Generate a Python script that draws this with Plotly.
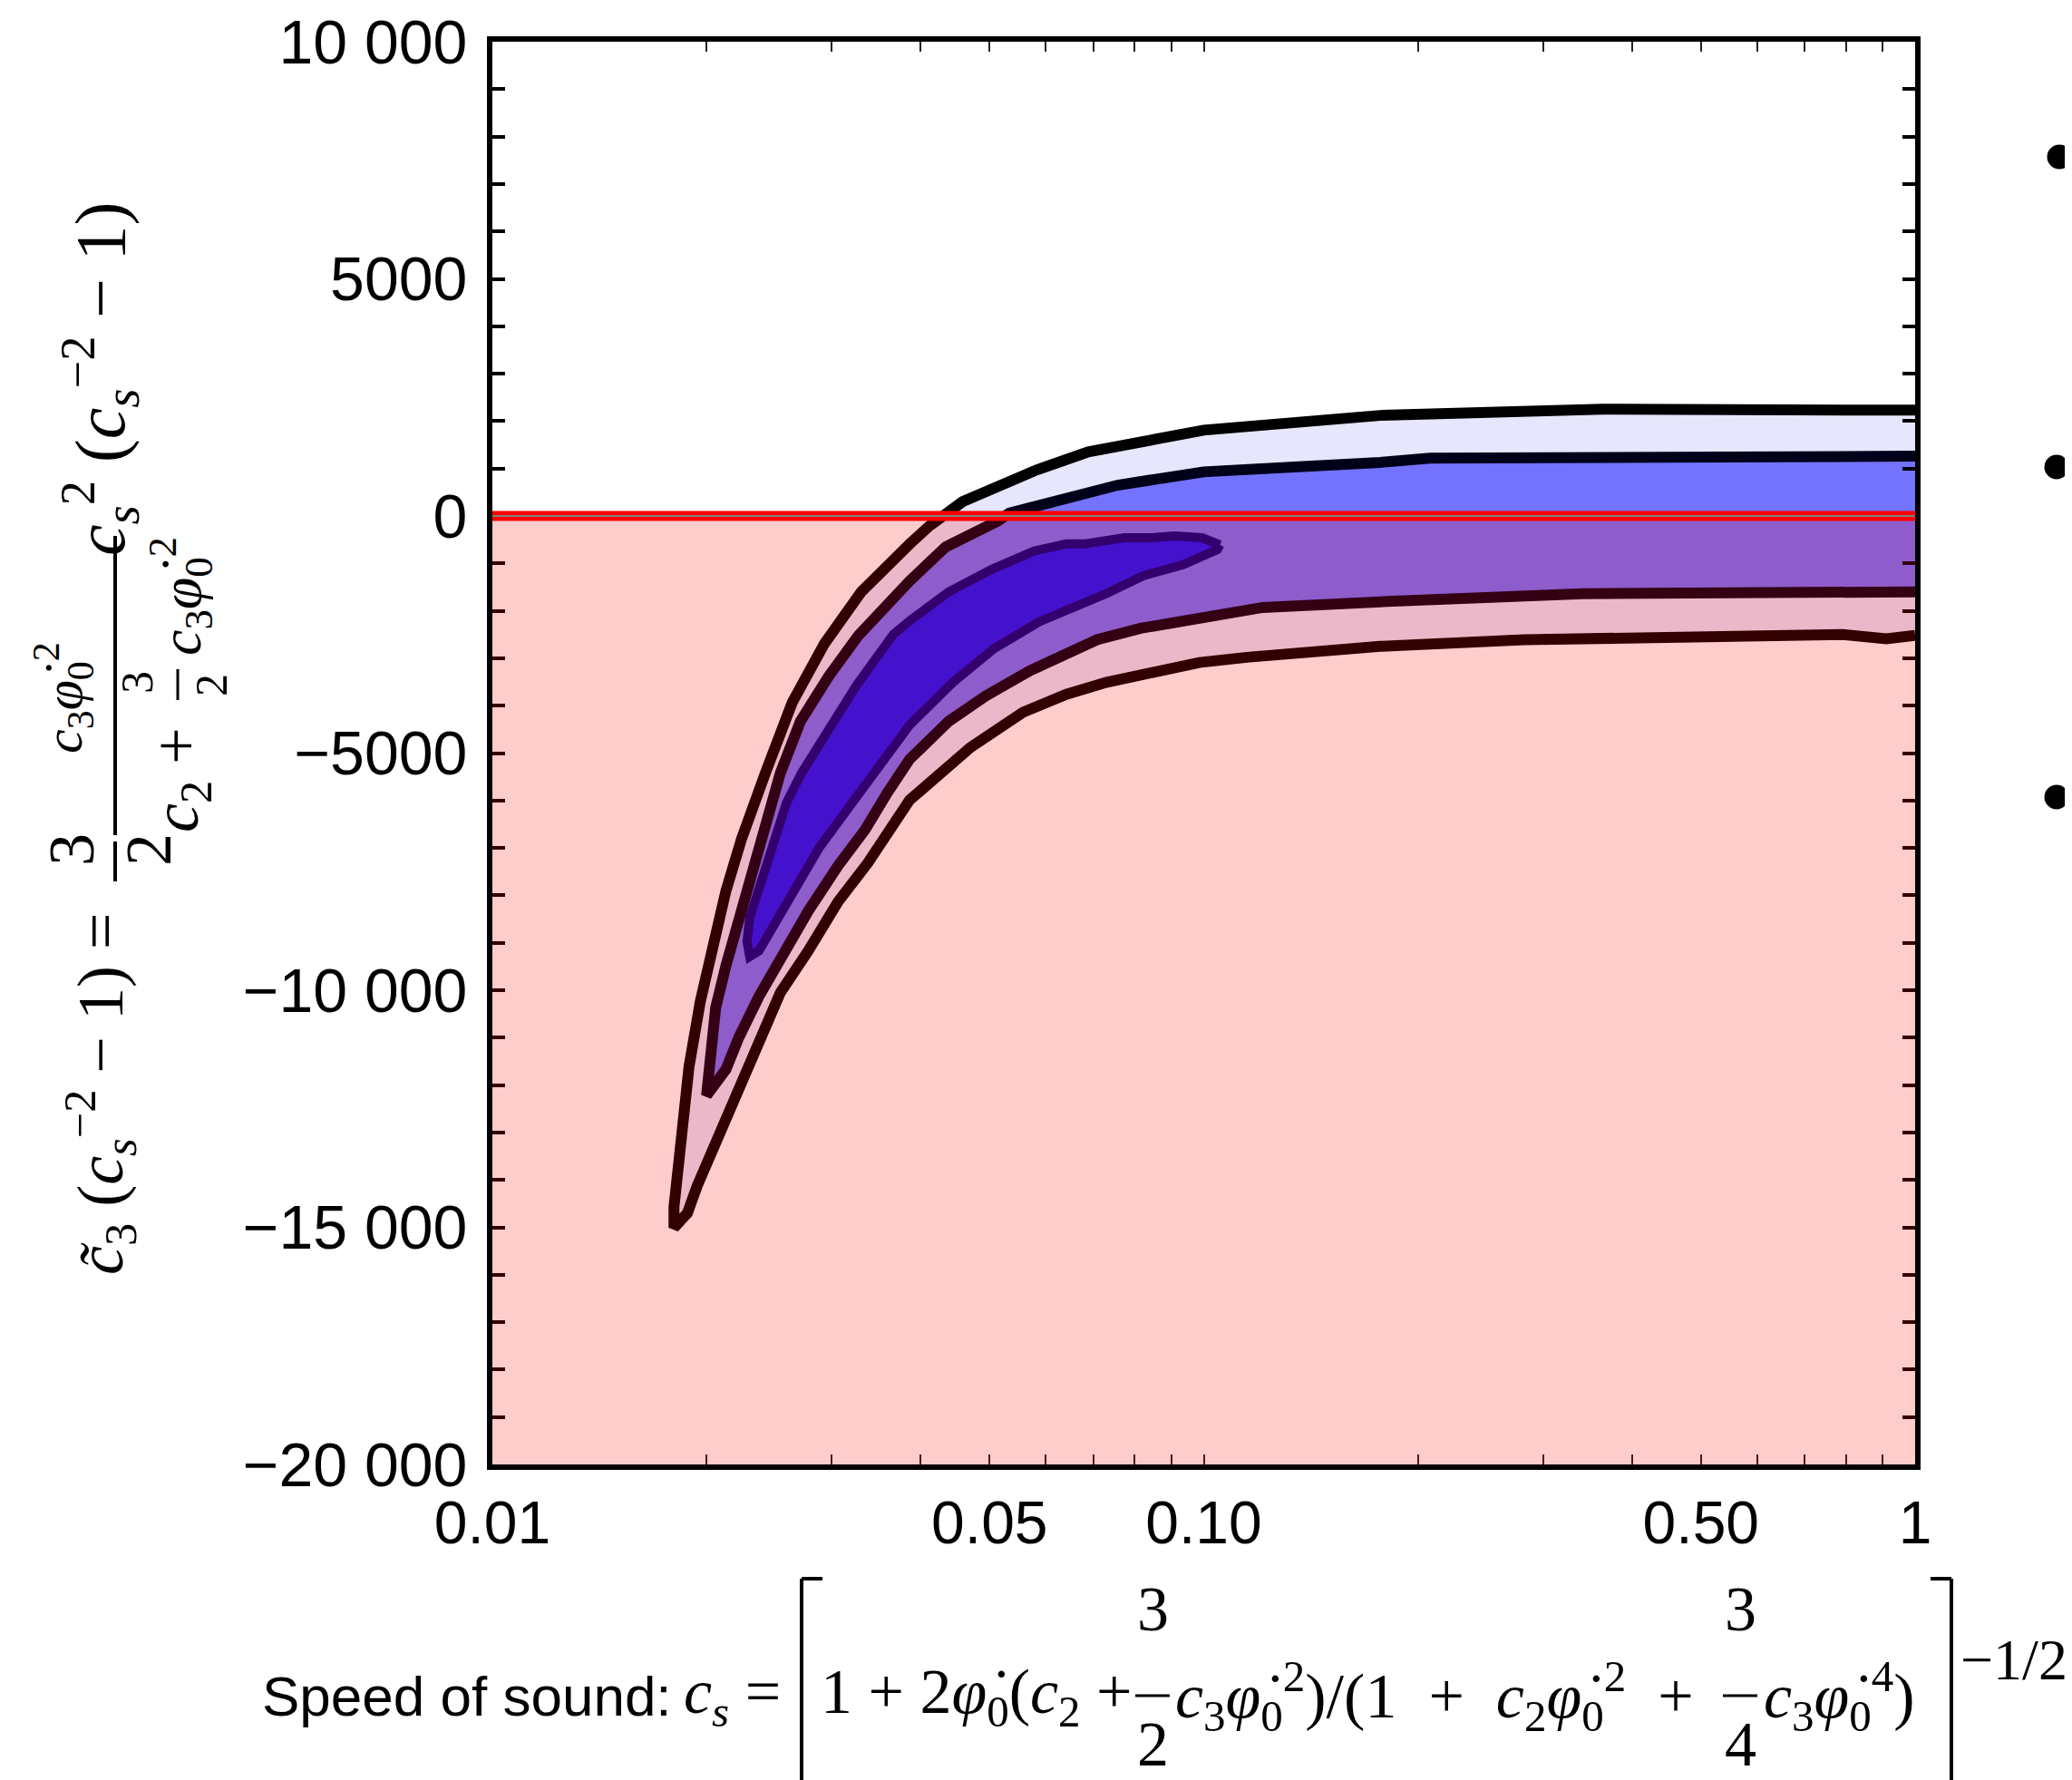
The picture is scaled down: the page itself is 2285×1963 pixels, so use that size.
import plotly.graph_objects as go

# outer (lighter) credible region: upper edge from c_s = 1 to the tip, lower edge back to c_s = 1
outer_top_x = [1.0, 0.364, 0.177, 0.100, 0.0688, 0.0582, 0.0458, 0.0434, 0.0410, 0.0386, 0.0330,
               0.0293, 0.0264, 0.0242, 0.0224, 0.0213, 0.0204, 0.0196, 0.0189, 0.0184, 0.0180, 0.0180]
outer_top_y = [2230, 2250, 2120, 1810, 1350, 970, 300, 60, -230, -590, -1600,
               -2690, -3930, -5420, -6810, -7900, -9170, -10240, -11610, -13040, -14570, -15010]
outer_bot_x = [0.0188, 0.0194, 0.0203, 0.0220, 0.0237, 0.0254, 0.0278, 0.0306, 0.0337, 0.0386, 0.0413,
               0.0470, 0.0557, 0.0641, 0.0729, 0.0986, 0.115, 0.177, 0.282, 0.791, 0.911, 1.0]
outer_bot_y = [-14700, -14130, -13430, -12220, -11000, -10050, -9170, -8140, -7320, -5990, -5610,
               -4880, -4140, -3760, -3510, -3090, -2980, -2750, -2610, -2500, -2590, -2520]

# inner credible region
inner_top_x = [1.0, 0.388, 0.208, 0.177, 0.100, 0.0757, 0.0533, 0.0513, 0.0434, 0.0386, 0.0327,
               0.0297, 0.0271, 0.0254, 0.0242, 0.0230, 0.0222, 0.0213, 0.0206, 0.0203, 0.0200, 0.0200]
inner_top_y = [1260, 1260, 1220, 1130, 930, 650, 60, -110, -650, -1370, -2520,
               -3380, -4330, -5420, -6500, -7650, -8470, -9480, -10370, -11140, -12030, -12220]
inner_bot_x = [0.0213, 0.0222, 0.0237, 0.0254, 0.0278, 0.0306, 0.0334, 0.0359, 0.0386, 0.0438,
               0.0493, 0.0570, 0.0708, 0.0815, 0.0957, 0.121, 0.177, 0.341, 1.0]
inner_bot_y = [-11670, -11000, -10130, -9360, -8330, -7380, -6620, -5840, -5130, -4330,
               -3800, -3260, -2610, -2370, -2170, -1930, -1810, -1640, -1600]

# innermost (dark) blob, closed
blob_x = [0.1054, 0.0994, 0.0908, 0.0844, 0.0773, 0.0680, 0.0641, 0.0577, 0.0503, 0.0438, 0.0386,
          0.0366, 0.0325, 0.0293, 0.0272, 0.0259, 0.0244, 0.0235, 0.0230, 0.0228, 0.0230, 0.0237,
          0.0247, 0.0267, 0.0288, 0.0318, 0.0337, 0.0386, 0.0444, 0.0507, 0.0587, 0.0649, 0.0729,
          0.0822, 0.0935, 0.1045, 0.1054]
blob_y = [-610, -460, -420, -460, -460, -590, -590, -740, -1130, -1600, -2210,
          -2500, -3570, -4650, -5420, -6050, -7270, -7950, -8470, -8980, -9290, -9170,
          -8720, -7840, -7000, -6120, -5610, -4410, -3510, -2800, -2230, -1980, -1640,
          -1260, -1030, -710, -610]

# excluded half plane (tilde c3 (cs^-2 - 1) < 0)
excluded_y = [-20000, 0]

y_range = [-20000, 10000]
x_labels = {0.01: "0.01", 0.05: "0.05", 0.1: "0.10", 0.5: "0.50", 1.0: "1"}
y_labels = {10000: "10 000", 5000: "5000", 0: "0", -5000: "\u22125000",
            -10000: "\u221210 000", -15000: "\u221215 000", -20000: "\u221220 000"}

# page geometry (screen pixels); the html body adds an 8 px offset
W, H, OFF = 2285, 1963, 8
PX0, PX1, PY0, PY1 = 543, 2112, 46, 1615
SANS = "Liberation Sans, Arial, sans-serif"
SERIF = "Liberation Serif, Times New Roman, serif"
PHI = "\u03c6\u0307"
SP = "\u2002"


def paper(px, py):
    return (px - PX0) / (PX1 - PX0), (PY1 - py) / (PY1 - PY0)


def region(fig, xs, ys, fill, edge, width):
    fig.add_trace(go.Scatter(x=xs, y=ys, mode="lines", fill="toself", fillcolor=fill,
                             line=dict(width=0), hoverinfo="skip", showlegend=False))
    fig.add_trace(go.Scatter(x=xs, y=ys, mode="lines", line=dict(color=edge, width=width),
                             hoverinfo="skip", showlegend=False))


def label(fig, px, py, text, size, family=SERIF, angle=0, xanchor="center"):
    x, y = paper(px, py)
    fig.add_annotation(x=x, y=y, xref="paper", yref="paper", text=text, showarrow=False,
                       textangle=angle, xanchor=xanchor, yanchor="middle",
                       font=dict(family=family, size=size, color="black"))


def rule(fig, p0, p1, width=4):
    x0, y0 = paper(*p0)
    x1, y1 = paper(*p1)
    fig.add_shape(type="line", xref="paper", yref="paper", x0=x0, y0=y0, x1=x1, y1=y1,
                  line=dict(color="black", width=width), layer="above")


def c(i, phi_pow=None):
    s = "<i>c</i><sub>%s</sub>" % i
    if phi_pow:
        s += "<i>" + PHI + "</i><sub>0</sub><sup>%s</sup>" % phi_pow
    return s


fig = go.Figure()
region(fig, outer_top_x + outer_bot_x, outer_top_y + outer_bot_y, "#E6E6FC", "#000000", 12)
region(fig, inner_top_x + inner_bot_x, inner_top_y + inner_bot_y, "#7373FF", "#00001A", 12)
region(fig, blob_x, blob_y, "#1616FF", "#00008A", 10)

fig.add_shape(type="rect", xref="paper", yref="y", x0=0, x1=1, y0=excluded_y[0], y1=excluded_y[1],
              fillcolor="rgba(255,0,0,0.2)", line=dict(width=0), layer="above")
fig.add_shape(type="line", xref="paper", yref="y", x0=0, x1=1, y0=excluded_y[1], y1=excluded_y[1],
              line=dict(color="#FF0000", width=11), layer="above")
fig.add_shape(type="line", xref="paper", yref="y", x0=0, x1=1, y0=excluded_y[1], y1=excluded_y[1],
              line=dict(color="#808080", width=2), layer="above")

x_major = list(x_labels)
x_minor = [m * 10.0 ** e for e in (-2, -1) for m in range(2, 10) if m != 5]

fig.update_xaxes(
    type="log", range=[-2, 0], tickvals=x_major, ticktext=[x_labels[v] for v in x_major],
    ticks="inside", ticklen=11, tickwidth=1.5, tickcolor="#222222",
    minor=dict(tickvals=x_minor, ticks="inside", ticklen=11, tickwidth=1.5, tickcolor="#222222"),
    showline=True, linewidth=6, linecolor="black", mirror="ticks",
    showgrid=False, zeroline=False, ticklabelstandoff=2, automargin=False,
    ticklabeloverflow="allow",
    tickfont=dict(family=SANS, size=66, color="black"),
)
fig.update_yaxes(
    range=y_range, tickvals=list(y_labels), ticktext=list(y_labels.values()),
    ticks="inside", ticklen=14, tickwidth=4, tickcolor="black",
    minor=dict(dtick=1000, tick0=0, ticks="inside", ticklen=14, tickwidth=4, tickcolor="black"),
    showline=True, linewidth=6, linecolor="black", mirror="ticks",
    showgrid=False, zeroline=False, ticklabelstandoff=8, automargin=False,
    ticklabeloverflow="allow",
    tickfont=dict(family=SANS, size=68, color="black"),
)

# x axis title, typeset piece by piece
MY = 1871
label(fig, 287, MY, "Speed of sound:", 62, SANS, xanchor="left")
label(fig, 752, MY, "<i>c<sub>s</sub></i> =", 70, xanchor="left")
label(fig, 903, MY, "1 + 2<i>" + PHI + "</i><sub>0</sub>(" + c(2) + " +", 70, xanchor="left")
label(fig, 1271, 1774, "3", 70)
label(fig, 1271, 1923, "2", 70)
rule(fig, (1252, 1870), (1290, 1870), 3)
label(fig, 1294, MY, c(3, 2) + ")/(1" + SP + "+" + SP + c(2, 2) + SP + "+", 70, xanchor="left")
label(fig, 1919, 1774, "3", 70)
label(fig, 1919, 1923, "4", 70)
rule(fig, (1900, 1870), (1938, 1870), 3)
label(fig, 1943, MY, c(3, 4) + ")", 70, xanchor="left")
rule(fig, (884, 1741), (884, 1990), 4)
rule(fig, (884, 1741), (907, 1741), 4)
rule(fig, (2152, 1741), (2152, 1990), 4)
rule(fig, (2129, 1741), (2152, 1741), 4)
label(fig, 2160, 1830, "\u22121/2", 64, xanchor="left")

# y axis title, rotated
label(fig, 110, 1206, "<i>c\u0303</i><sub>3</sub> (<i>c<sub>s</sub></i><sup>\u22122</sup> \u2212 1) =", 72, angle=-90)
label(fig, 79, 937, "3", 72, angle=-90)
label(fig, 164, 937, "2", 72, angle=-90)
rule(fig, (127, 928), (127, 972), 4)
label(fig, 70, 770, c(3, 2), 60, angle=-90)
rule(fig, (127, 591), (127, 921), 4)
label(fig, 199, 860, c(2) + " +", 72, angle=-90)
label(fig, 151, 753, "3", 50, angle=-90)
label(fig, 233, 756, "2", 50, angle=-90)
rule(fig, (196, 738), (196, 772), 3)
label(fig, 199, 658, c(3, 2), 64, angle=-90)
label(fig, 110, 418, "<i>c<sub>s</sub></i><sup>2</sup> (<i>c<sub>s</sub></i><sup>\u22122</sup> \u2212 1)", 78, angle=-90)

# legend bullets cut by the right edge of the picture
for cx, cy in [(2271, 173), (2268, 515), (2268, 879)]:
    x0, y0 = paper(cx - 13.5, cy + 13.5)
    x1, y1 = paper(cx + 13.5, cy - 13.5)
    fig.add_shape(type="circle", xref="paper", yref="paper", x0=x0, y0=y0, x1=x1, y1=y1,
                  fillcolor="black", line=dict(width=0), layer="above")

fig.update_layout(
    width=W - OFF, height=H - OFF, autosize=False,
    margin=dict(l=PX0 - OFF, r=W - PX1, t=PY0 - OFF, b=H - PY1),
    plot_bgcolor="white", paper_bgcolor="white",
    showlegend=False,
)

fig.write_html("out.html")
